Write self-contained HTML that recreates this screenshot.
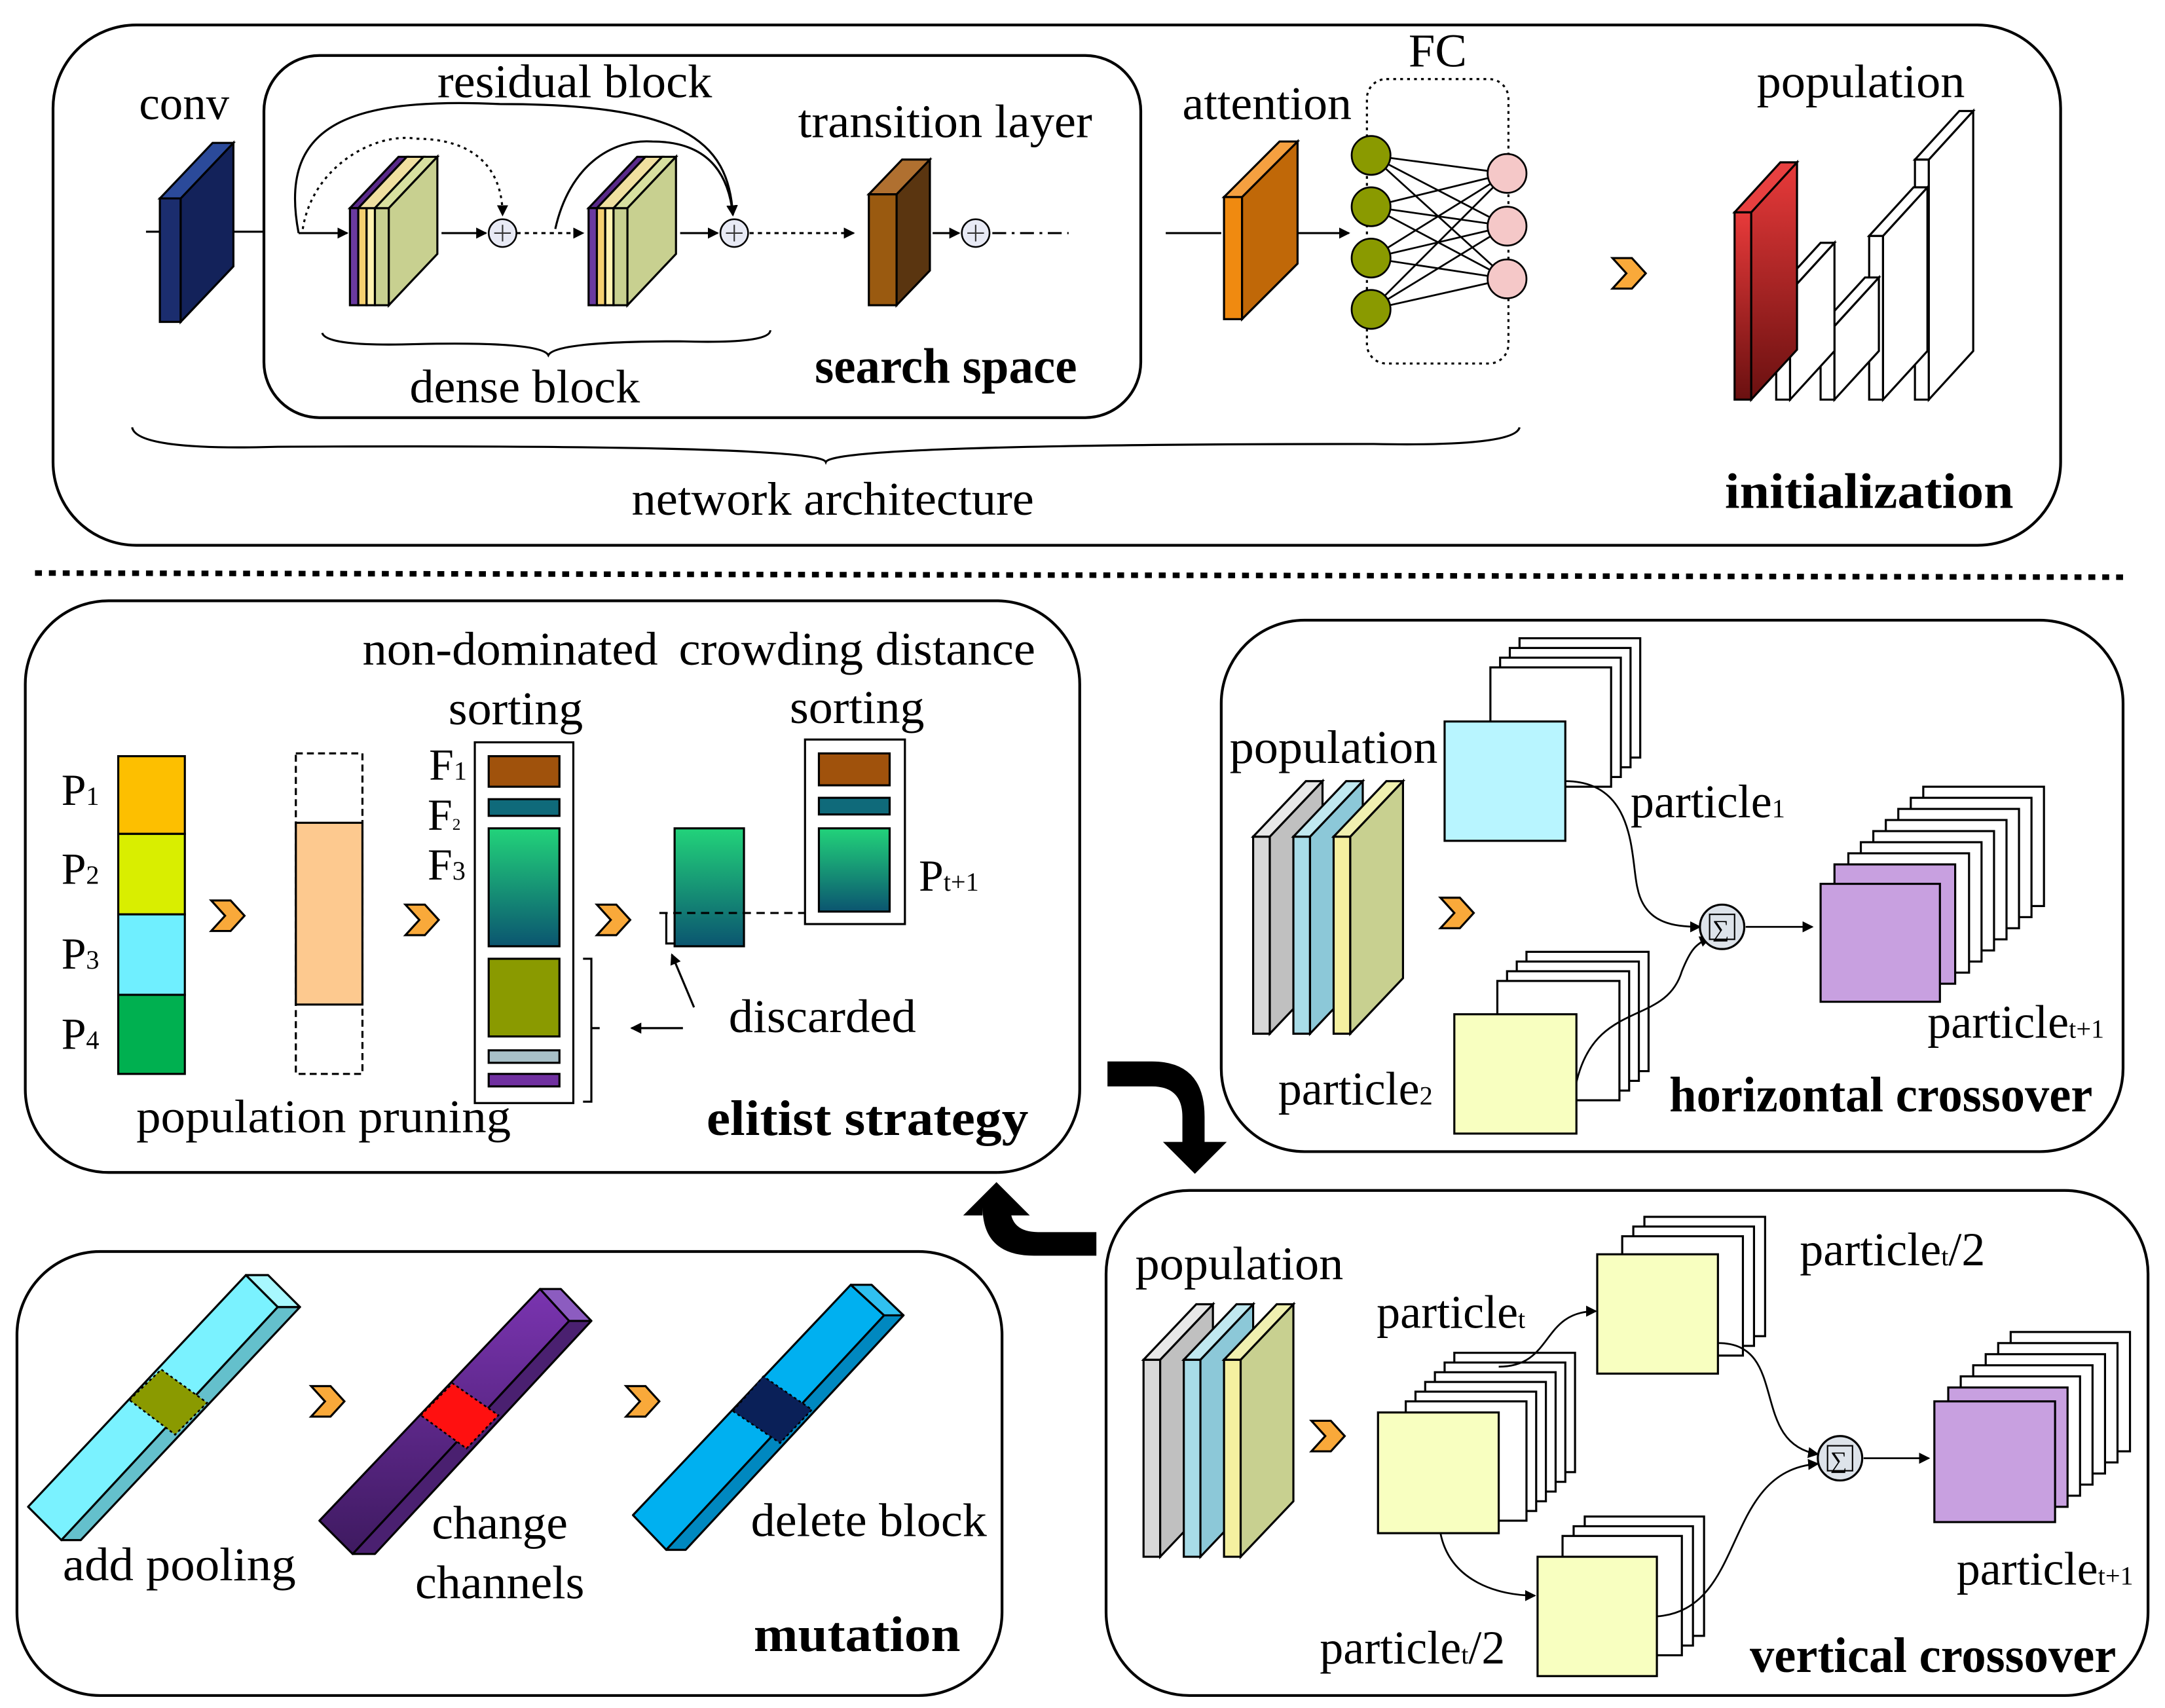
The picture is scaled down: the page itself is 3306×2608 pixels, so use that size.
<!DOCTYPE html>
<html><head><meta charset="utf-8"><style>html,body{margin:0;padding:0;background:#fff}svg{display:block}text{font-family:"Liberation Serif",serif;fill:#000}</style></head><body>
<svg width="3306" height="2608" viewBox="0 0 1560 1231" xmlns="http://www.w3.org/2000/svg">
<defs>
<linearGradient id="g1" x1="0" y1="0" x2="0" y2="1"><stop offset="0" stop-color="#22d37a"/><stop offset="1" stop-color="#0b5570"/></linearGradient>
<linearGradient id="gr" x1="0" y1="0" x2="0" y2="1"><stop offset="0" stop-color="#e83a3a"/><stop offset="1" stop-color="#6a1010"/></linearGradient>
<linearGradient id="gp" x1="0" y1="0" x2="0" y2="1"><stop offset="0" stop-color="#7a34b0"/><stop offset="1" stop-color="#3e1a60"/></linearGradient>
<marker id="ar" markerWidth="8" markerHeight="8" refX="7" refY="4" orient="auto" markerUnits="userSpaceOnUse"><path d="M0,0 L8,4 L0,8 z" fill="#000"/></marker>
<g id="chev"><polygon points="0,0 14,0 24,11 14,22 0,22 10,11" fill="#f9a93a" stroke="#000" stroke-width="1.5"/></g>
</defs>
<g fill="none" stroke="#000" stroke-width="2">
<rect x="38" y="18" width="1447" height="375" rx="60"/>
<rect x="190" y="40" width="632" height="261" rx="40"/>
<rect x="18" y="433" width="760" height="412" rx="60"/>
<rect x="880" y="447" width="650" height="383" rx="60"/>
<rect x="797" y="858" width="751" height="364" rx="60"/>
<rect x="12" y="902" width="710" height="320" rx="60"/>
</g>
<line x1="25" y1="413" x2="1530" y2="416" stroke="#000" stroke-width="4" stroke-dasharray="5,5"/>

<g font-size="34" lengthAdjust="spacingAndGlyphs">
<text x="100" y="86" textLength="65" lengthAdjust="spacingAndGlyphs">conv</text>
<text x="315" y="70" textLength="198" lengthAdjust="spacingAndGlyphs">residual block</text>
<text x="575" y="99" textLength="212" lengthAdjust="spacingAndGlyphs">transition layer</text>
<text x="852" y="86" textLength="122" lengthAdjust="spacingAndGlyphs">attention</text>
<text x="1015" y="48" textLength="42" lengthAdjust="spacingAndGlyphs">FC</text>
<text x="1266" y="70" textLength="150" lengthAdjust="spacingAndGlyphs">population</text>
<text x="295" y="290" textLength="166" lengthAdjust="spacingAndGlyphs">dense block</text>
<text x="455" y="371" textLength="290" lengthAdjust="spacingAndGlyphs">network architecture</text>
<text x="261" y="479" textLength="213" lengthAdjust="spacingAndGlyphs">non-dominated</text>
<text x="323" y="522" textLength="97" lengthAdjust="spacingAndGlyphs">sorting</text>
<text x="489" y="479" textLength="257" lengthAdjust="spacingAndGlyphs">crowding distance</text>
<text x="569" y="521" textLength="97" lengthAdjust="spacingAndGlyphs">sorting</text>
<text x="525" y="744" textLength="135" lengthAdjust="spacingAndGlyphs">discarded</text>
<text x="98" y="816" textLength="270" lengthAdjust="spacingAndGlyphs">population pruning</text>
<text x="886" y="550" textLength="150" lengthAdjust="spacingAndGlyphs">population</text>
<text x="818" y="922" textLength="150" lengthAdjust="spacingAndGlyphs">population</text>
<text x="45" y="1139" textLength="168" lengthAdjust="spacingAndGlyphs">add pooling</text>
<text x="311" y="1109" textLength="98" lengthAdjust="spacingAndGlyphs">change</text>
<text x="299" y="1152" textLength="122" lengthAdjust="spacingAndGlyphs">channels</text>
<text x="541" y="1107" textLength="170" lengthAdjust="spacingAndGlyphs">delete block</text>
</g>
<g font-size="36" font-weight="bold">
<text x="587" y="276" textLength="189" lengthAdjust="spacingAndGlyphs">search space</text>
<text x="1243" y="366" textLength="208" lengthAdjust="spacingAndGlyphs">initialization</text>
<text x="509" y="818" textLength="232" lengthAdjust="spacingAndGlyphs">elitist strategy</text>
<text x="1203" y="801" textLength="305" lengthAdjust="spacingAndGlyphs">horizontal crossover</text>
<text x="1261" y="1205" textLength="264" lengthAdjust="spacingAndGlyphs">vertical crossover</text>
<text x="543" y="1190" textLength="149" lengthAdjust="spacingAndGlyphs">mutation</text>
</g>

<g stroke="#000" stroke-width="1.5">
<line x1="105" y1="167" x2="190" y2="167"/>
<polygon points="115,143 130,143 130,232 115,232" fill="#1b2d6e"/>
<polygon points="130,143 168,103 168,192 130,232" fill="#13225a"/>
<polygon points="115,143 153,103 168,103 130,143" fill="#2b4a9a"/>
</g>
<g stroke="#000" stroke-width="1.5">
<g id="db">
<polygon points="252,150 258,150 293,113 287,113" fill="#5a2a8a"/>
<polygon points="252,150 258,150 258,220 252,220" fill="#6a3aa0"/>
<polygon points="258,150 264,150 264,220 258,220" fill="#f5d070"/>
<polygon points="264,150 270,150 270,220 264,220" fill="#fff2b0"/>
<polygon points="258,150 270,150 305,113 293,113" fill="#f0e0a0"/>
<polygon points="270,150 280,150 280,220 270,220" fill="#c8d090"/>
<polygon points="270,150 280,150 315,113 305,113" fill="#d8e0a0"/>
<polygon points="280,150 315,113 315,183 280,220" fill="#c8d090"/>
</g>
<use href="#db" transform="translate(172,0)"/>
</g>
<g stroke="#000" stroke-width="1.5" fill="none">
<line x1="215" y1="168" x2="250" y2="168" marker-end="url(#ar)"/>
<line x1="318" y1="168" x2="350" y2="168" marker-end="url(#ar)"/>
<line x1="372" y1="168" x2="420" y2="168" stroke-dasharray="3,3" marker-end="url(#ar)"/>
<line x1="490" y1="168" x2="517" y2="168" marker-end="url(#ar)"/>
<line x1="540" y1="168" x2="615" y2="168" stroke-dasharray="3,3" marker-end="url(#ar)"/>
<line x1="672" y1="168" x2="691" y2="168" marker-end="url(#ar)"/>
<line x1="715" y1="168" x2="770" y2="168" stroke-dasharray="10,4,2,4"/>
<path d="M215,168 C200,90 250,70 360,75 C490,75 525,100 528,155" marker-end="url(#ar)"/>
<path d="M218,165 C225,120 270,95 300,100 C340,100 362,120 362,155" stroke-dasharray="2,3" marker-end="url(#ar)"/>
<path d="M400,165 C410,120 440,100 470,102 C510,102 525,125 528,155" marker-end="url(#ar)"/>
<path d="M232,240 Q235,250 300,248 Q390,246 395,256 Q400,246 490,246 Q555,248 555,238"/>
<path d="M95,308 Q98,325 200,322 Q590,320 595,333 Q600,320 990,320 Q1092,322 1095,308"/>
</g>
<g fill="#e8eaf5" stroke="#000" stroke-width="1.2">
<circle cx="362" cy="168" r="10"/><circle cx="529" cy="168" r="10"/><circle cx="703" cy="168" r="10"/>
</g>
<g stroke="#333" stroke-width="1"><path d="M356,168h12M362,162v12M523,168h12M529,162v12M697,168h12M703,162v12"/></g>
<g stroke="#000" stroke-width="1.5">
<polygon points="626,140 646,140 646,220 626,220" fill="#9a5a10"/>
<polygon points="646,140 670,115 670,195 646,220" fill="#5a3510"/>
<polygon points="626,140 650,115 670,115 646,140" fill="#b07030"/>
<line x1="840" y1="168" x2="880" y2="168"/>
<polygon points="882,142 895,142 895,230 882,230" fill="#f08a10"/>
<polygon points="895,142 935,102 935,190 895,230" fill="#c06808"/>
<polygon points="882,142 922,102 935,102 895,142" fill="#f5a040"/>
<line x1="935" y1="168" x2="972" y2="168" marker-end="url(#ar)"/>
</g>
<rect x="985" y="57" width="102" height="205" rx="14" fill="none" stroke="#000" stroke-width="1.5" stroke-dasharray="2,3"/>
<g stroke="#000" stroke-width="1.3">
<path d="M988,112L1086,125M988,112L1086,163M988,112L1086,201M988,149L1086,125M988,149L1086,163M988,149L1086,201M988,186L1086,125M988,186L1086,163M988,186L1086,201M988,223L1086,125M988,223L1086,163M988,223L1086,201"/>
<g fill="#8a9a00"><circle cx="988" cy="112" r="14"/><circle cx="988" cy="149" r="14"/><circle cx="988" cy="186" r="14"/><circle cx="988" cy="223" r="14"/></g>
<g fill="#f5c8c8"><circle cx="1086" cy="125" r="14"/><circle cx="1086" cy="163" r="14"/><circle cx="1086" cy="201" r="14"/></g>
</g>
<use href="#chev" x="1162" y="186"/>
<g stroke="#000" stroke-width="1.5" fill="#fff">
<polygon points="1380,115 1390,115 1390,288 1380,288"/><polygon points="1390,115 1422,80 1422,253 1390,288"/><polygon points="1380,115 1412,80 1422,80 1390,115"/>
<polygon points="1347,170 1357,170 1357,288 1347,288"/><polygon points="1357,170 1389,135 1389,253 1357,288"/><polygon points="1347,170 1379,135 1389,135 1357,170"/>
<polygon points="1312,235 1322,235 1322,288 1312,288"/><polygon points="1322,235 1354,200 1354,253 1322,288"/><polygon points="1312,235 1344,200 1354,200 1322,235"/>
<polygon points="1280,210 1290,210 1290,288 1280,288"/><polygon points="1290,210 1322,175 1322,253 1290,288"/><polygon points="1280,210 1312,175 1322,175 1290,210"/>
<polygon points="1250,153 1262,153 1262,288 1250,288" fill="url(#gr)"/><polygon points="1262,153 1295,117 1295,252 1262,288" fill="url(#gr)"/><polygon points="1250,153 1283,117 1295,117 1262,153" fill="#e84040"/>
</g>

<g font-size="32">
<text x="44" y="580">P<tspan font-size="19">1</tspan></text>
<text x="44" y="637">P<tspan font-size="19">2</tspan></text>
<text x="44" y="698">P<tspan font-size="19">3</tspan></text>
<text x="44" y="756">P<tspan font-size="19">4</tspan></text>
<text x="309" y="562">F<tspan font-size="19">1</tspan></text>
<text x="308" y="598">F<tspan font-size="12">2</tspan></text>
<text x="308" y="634">F<tspan font-size="19">3</tspan></text>
<text x="662" y="642">P<tspan font-size="19">t+1</tspan></text>
</g>
<g font-size="34">
<text x="1175" y="589">particle<tspan font-size="19">1</tspan></text>
<text x="921" y="796">particle<tspan font-size="19">2</tspan></text>
<text x="1389" y="748">particle<tspan font-size="19">t+1</tspan></text>
<text x="992" y="957">particle<tspan font-size="19">t</tspan></text>
<text x="1297" y="912">particle<tspan font-size="19">t</tspan>/2</text>
<text x="951" y="1199">particle<tspan font-size="19">t</tspan>/2</text>
<text x="1410" y="1142">particle<tspan font-size="19">t+1</tspan></text>
</g>
<g stroke="#000" stroke-width="1.5">
<rect x="85" y="545" width="48" height="56" fill="#fdbf00"/>
<rect x="85" y="601" width="48" height="58" fill="#d9ee00"/>
<rect x="85" y="659" width="48" height="58" fill="#6fefff"/>
<rect x="85" y="717" width="48" height="57" fill="#00b050"/>
<rect x="213" y="543" width="48" height="231" fill="none" stroke-dasharray="5,3"/>
<rect x="213" y="593" width="48" height="131" fill="#fdc98f"/>
<rect x="342" y="535" width="71" height="260" fill="#fff"/>
<rect x="352" y="545" width="51" height="22" fill="#a0520c"/>
<rect x="352" y="576" width="51" height="12" fill="#0f6a7a"/>
<rect x="352" y="597" width="51" height="85" fill="url(#g1)"/>
<rect x="352" y="691" width="51" height="56" fill="#8a9a00"/>
<rect x="352" y="757" width="51" height="9" fill="#a8c0c8"/>
<rect x="352" y="774" width="51" height="9" fill="#7030a0"/>
<rect x="486" y="597" width="50" height="85" fill="url(#g1)"/>
<rect x="580" y="533" width="72" height="133" fill="#fff"/>
<rect x="590" y="543" width="51" height="23" fill="#a0520c"/>
<rect x="590" y="575" width="51" height="12" fill="#0f6a7a"/>
<rect x="590" y="597" width="51" height="60" fill="url(#g1)"/>
</g>
<use href="#chev" x="152" y="649"/><use href="#chev" x="292" y="652"/><use href="#chev" x="430" y="652"/>
<g stroke="#000" stroke-width="1.5" fill="none">
<line x1="475" y1="658" x2="580" y2="658" stroke-dasharray="6,4"/>
<path d="M480,658 v22 h6"/>
<line x1="500" y1="726" x2="484" y2="688" marker-end="url(#ar)"/>
<path d="M420,691 h6 v103 h-6"/>
<line x1="492" y1="741" x2="455" y2="741" marker-end="url(#ar)"/>
<line x1="426" y1="741" x2="432" y2="741"/>
</g>

<g fill="#000">
<path d="M798,765 L830,765 Q868,765 868,805 L868,823 L884,823 L861,846 L838,823 L852,823 L852,805 Q852,783 830,783 L798,783 z"/>
<path d="M790,905 L745,905 Q708,905 708,870 L708,876 L694,876 L718,852 L742,876 L728,876 L728,870 Q728,888 748,888 L790,888 z"/>
</g>

<g stroke="#000" stroke-width="1.5">
<g id="pslab">
<polygon points="903,603 915,603 915,745 903,745" fill="#d8d8d8"/><polygon points="915,603 953,563 953,705 915,745" fill="#c0c0c0"/><polygon points="903,603 941,563 953,563 915,603" fill="#e8e8e8"/>
<polygon points="932,603 944,603 944,745 932,745" fill="#a8dce8"/><polygon points="944,603 982,563 982,705 944,745" fill="#8cc8d8"/><polygon points="932,603 970,563 982,563 944,603" fill="#c0e8f0"/>
<polygon points="961,603 973,603 973,745 961,745" fill="#f5f0a0"/><polygon points="973,603 1011,563 1011,705 973,745" fill="#c8d090"/><polygon points="961,603 999,563 1011,563 973,603" fill="#f0f0b0"/>
</g>
<g fill="#fff">
<rect x="1095" y="460" width="87" height="86"/><rect x="1088" y="467" width="87" height="86"/><rect x="1081" y="474" width="87" height="86"/><rect x="1074" y="481" width="87" height="86"/>
<rect x="1041" y="520" width="87" height="86" fill="#b8f5ff"/>
<rect x="1100" y="686" width="88" height="86"/><rect x="1093" y="693" width="88" height="86"/><rect x="1086" y="700" width="88" height="86"/><rect x="1079" y="707" width="88" height="86"/>
<rect x="1048" y="731" width="88" height="86" fill="#f8ffc0"/>
<rect x="1386" y="567" width="87" height="86"/><rect x="1377" y="575" width="87" height="86"/><rect x="1368" y="583" width="87" height="86"/><rect x="1359" y="591" width="87" height="86"/><rect x="1350" y="599" width="87" height="86"/><rect x="1341" y="607" width="87" height="86"/><rect x="1332" y="615" width="87" height="86"/>
<rect x="1322" y="623" width="87" height="86" fill="#c8a0e0"/>
<rect x="1312" y="637" width="86" height="85" fill="#c8a0e0"/>
</g>
</g>
<g stroke="#000" stroke-width="1.3" fill="none">
<path d="M1128,563 C1180,563 1175,620 1180,640 C1185,665 1205,668 1225,668" marker-end="url(#ar)"/>
<path d="M1136,780 C1150,720 1200,740 1212,700 C1218,685 1222,680 1232,676" marker-end="url(#ar)"/>
<line x1="1258" y1="668" x2="1306" y2="668" marker-end="url(#ar)"/>
</g>
<circle cx="1241" cy="668" r="16" fill="#dde3ea" stroke="#000" stroke-width="1.5"/>
<rect x="1232" y="659" width="18" height="18" fill="none" stroke="#000" stroke-width="1"/><text x="1234" y="675" font-size="17">∑</text>
<use href="#chev" x="1038" y="647"/>

<g stroke="#000" stroke-width="1.5">
<use href="#pslab" transform="translate(-79,377)"/>
<g fill="#fff">
<rect x="1048" y="975" width="87" height="86"/><rect x="1041" y="982" width="87" height="86"/><rect x="1034" y="989" width="87" height="86"/><rect x="1027" y="996" width="87" height="86"/><rect x="1020" y="1003" width="87" height="86"/><rect x="1013" y="1010" width="87" height="86"/>
<rect x="993" y="1018" width="87" height="87" fill="#f8ffc0"/>
<rect x="1185" y="877" width="87" height="86"/><rect x="1177" y="884" width="87" height="86"/><rect x="1169" y="891" width="87" height="86"/>
<rect x="1151" y="904" width="87" height="86" fill="#f8ffc0"/>
<rect x="1142" y="1093" width="86" height="86"/><rect x="1134" y="1100" width="86" height="86"/><rect x="1126" y="1107" width="86" height="86"/>
<rect x="1108" y="1122" width="86" height="86" fill="#f8ffc0"/>
<rect x="1449" y="960" width="86" height="86"/><rect x="1440" y="968" width="86" height="86"/><rect x="1431" y="976" width="86" height="86"/><rect x="1422" y="984" width="86" height="86"/><rect x="1413" y="992" width="86" height="86"/><rect x="1404" y="1000" width="86" height="86" fill="#c8a0e0"/>
<rect x="1394" y="1010" width="87" height="87" fill="#c8a0e0"/>
</g>
</g>
<g stroke="#000" stroke-width="1.3" fill="none">
<path d="M1080,985 C1120,985 1110,945 1150,945" marker-end="url(#ar)"/>
<path d="M1038,1105 C1045,1140 1080,1150 1106,1150" marker-end="url(#ar)"/>
<path d="M1238,968 C1290,968 1260,1040 1310,1048" marker-end="url(#ar)"/>
<path d="M1194,1165 C1260,1160 1240,1060 1310,1055" marker-end="url(#ar)"/>
<line x1="1343" y1="1051" x2="1390" y2="1051" marker-end="url(#ar)"/>
</g>
<circle cx="1326" cy="1051" r="16" fill="#dde3ea" stroke="#000" stroke-width="1.5"/>
<rect x="1317" y="1042" width="18" height="18" fill="none" stroke="#000" stroke-width="1"/><text x="1319" y="1058" font-size="17">∑</text>
<use href="#chev" x="945" y="1024"/>

<!-- mutation bars -->
<g stroke="#000" stroke-width="1.5" stroke-linejoin="round">
<polygon points="20,1086 177,919 200,942 44,1110" fill="#7af2ff"/>
<polygon points="44,1110 200,942 216,942 58,1110" fill="#64c0cc"/>
<polygon points="177,919 193,919 216,942 200,942" fill="#a8f8ff"/>
<polygon points="230,1096 389,929 410,952 254,1120" fill="url(#gp)"/>
<polygon points="254,1120 410,952 426,952 270,1120" fill="#4a2070"/>
<polygon points="389,929 404,929 426,952 410,952" fill="#8c5cc0"/>
<polygon points="456,1092 613,926 637,948 480,1117" fill="#00b0f0"/>
<polygon points="480,1117 637,948 651,948 494,1117" fill="#0088c0"/>
<polygon points="613,926 628,926 651,948 637,948" fill="#30c0f0"/>
</g>
<g stroke="#000" stroke-width="1.2" stroke-dasharray="2,2">
<polygon points="93,1009 116,987 149,1011 126,1034" fill="#8a9a00"/>
<polygon points="303,1020 326,997 359,1020 336,1044" fill="#ff1010"/>
<polygon points="528,1017 550,992 585,1016 562,1040" fill="#0a2058"/>
</g>
<use href="#chev" x="224" y="999"/><use href="#chev" x="451" y="999"/>
</svg>
</body></html>
